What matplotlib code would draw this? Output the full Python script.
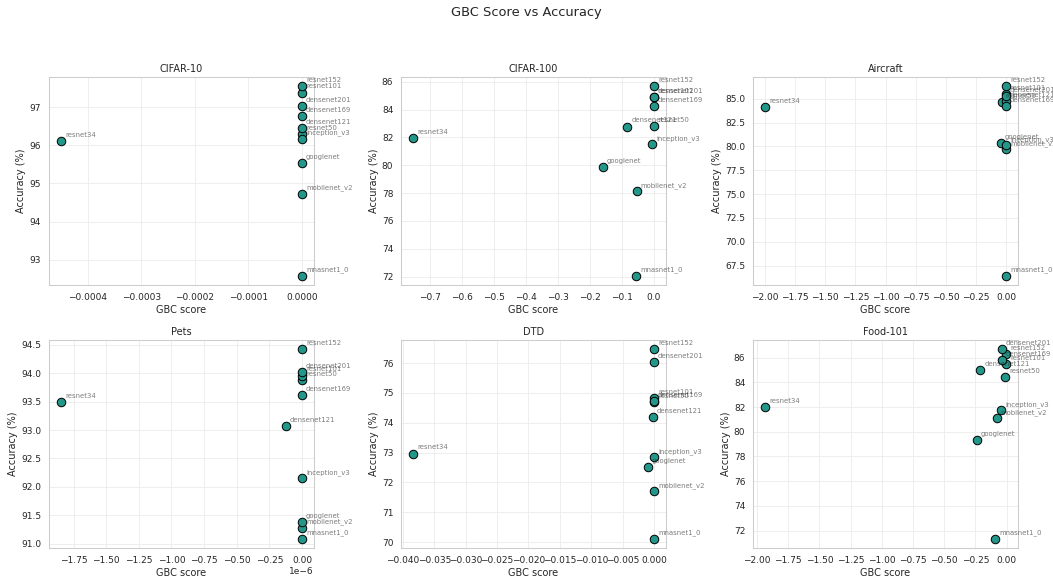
import numpy as np
import matplotlib
matplotlib.use("Agg")
import matplotlib.pyplot as plt
import seaborn as sns

models = ["resnet34", "resnet50", "resnet101", "resnet152", "densenet121",
          "densenet169", "densenet201", "mnasnet1_0", "mobilenet_v2",
          "googlenet", "inception_v3"]

# GBC score / accuracy per dataset, same order as models
cifar10_gbc = [-0.00045, 0.0, 0.0, 0.0, 0.0, 0.0, 0.0, 0.0, 0.0, 0.0, 0.0]
cifar10_acc = [96.12, 96.29, 97.39, 97.55, 96.46, 96.77, 97.03, 92.58, 94.73, 95.54, 96.18]

cifar100_gbc = [-0.752, 0.0, 0.0, 0.0, -0.083, 0.0, 0.0, -0.056, -0.054, -0.159, -0.006]
cifar100_acc = [81.96, 82.82, 84.89, 85.66, 82.78, 84.27, 84.87, 72.07, 78.13, 79.87, 81.50]

aircraft_gbc = [-2.0, -0.036, 0.0, 0.0, 0.0, 0.0, 0.0, 0.0, 0.0, -0.042, 0.0]
aircraft_acc = [84.09, 84.65, 85.49, 86.30, 84.72, 84.20, 85.31, 66.45, 79.71, 80.34, 80.17]

pets_gbc = [-1.846e-6, 0.0, 0.0, 0.0, -0.123e-6, 0.0, 0.0, 0.0, 0.0, 0.0, 0.0]
pets_acc = [93.50, 93.88, 93.96, 94.42, 93.07, 93.62, 94.03, 91.09, 91.28, 91.38, 92.15]

dtd_gbc = [-0.0384, 0.0, 0.0, 0.0, -0.0002, 0.0, 0.0, 0.0, 0.0, -0.001, 0.0]
dtd_acc = [72.97, 74.70, 74.82, 76.46, 74.19, 74.72, 76.04, 70.12, 71.72, 72.53, 72.85]

food_gbc = [-1.935, -0.014, -0.005, -0.005, -0.21, -0.038, -0.038, -0.094, -0.08, -0.24, -0.046]
food_acc = [81.98, 84.42, 85.51, 86.33, 84.97, 85.84, 86.68, 71.35, 81.12, 79.33, 81.77]

datasets = ["CIFAR-10", "CIFAR-100", "Aircraft", "Pets", "DTD", "Food-101"]
gbc_all = [cifar10_gbc, cifar100_gbc, aircraft_gbc, pets_gbc, dtd_gbc, food_gbc]
acc_all = [cifar10_acc, cifar100_acc, aircraft_acc, pets_acc, dtd_acc, food_acc]

sns.set_theme(style="whitegrid")
plt.rcParams['font.family'] = ['DejaVu Sans']

fig, axes = plt.subplots(2, 3, figsize=(18, 9.932), dpi=58.5)

for ax, name, gbc, acc in zip(axes.flat, datasets, gbc_all, acc_all):
    ax.scatter(gbc, acc, s=110, color="#23978a", edgecolor="black", linewidth=1.2, zorder=3)
    for i, m in enumerate(models):
        ax.annotate(m, (gbc[i], acc[i]), xytext=(5, 5), textcoords="offset points",
                    fontsize=8.5, alpha=0.6)
    ax.set_title(name, fontsize=12)
    ax.set_xlabel("GBC score", fontsize=12)
    ax.set_ylabel("Accuracy (%)", fontsize=12)
    ax.tick_params(labelsize=11)
    ax.grid(True, color="#ebebeb")

fig.suptitle("GBC Score vs Accuracy", fontsize=16, y=0.99)
fig.subplots_adjust(left=0.0465, right=0.9668, top=0.8675, bottom=0.0568,
                    wspace=0.328, hspace=0.264)
plt.savefig("out.png", dpi=58.5)
